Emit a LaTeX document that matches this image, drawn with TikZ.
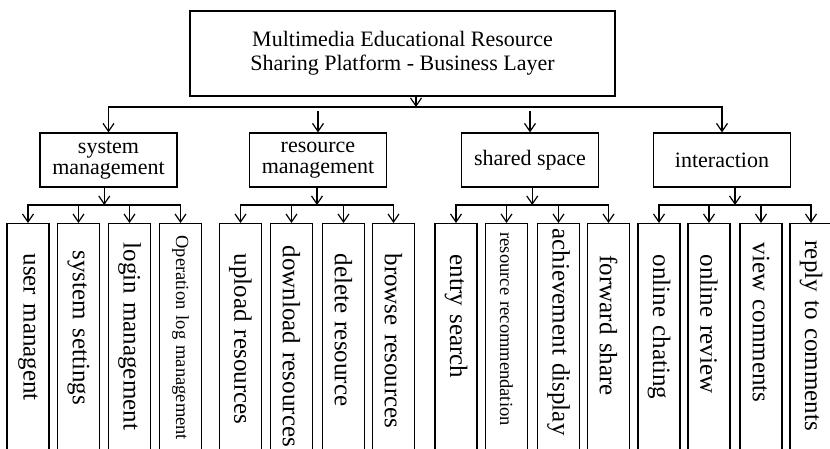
\documentclass[tikz,border=0pt]{standalone}
\usepackage{fontspec}
\setmainfont{Liberation Serif}
\usetikzlibrary{arrows.meta, calc}

\begin{document}
\begin{tikzpicture}[x=1pt, y=-1pt,
    box/.style={draw, line width=1.2pt, align=center, inner sep=0pt},
    topbox/.style={box, minimum width=425pt, minimum height=85pt,
                   font=\fontsize{22}{24}\selectfont},
    midbox/.style={box, minimum width=137pt, minimum height=54pt,
                   font=\fontsize{22}{21}\selectfont},
    leaf/.style={draw, line width=1.2pt, rotate=-90, anchor=west,
                 minimum height=42pt, text width=260pt, align=left,
                 inner ysep=0pt, inner xsep=#1,
                 font=\fontsize{25}{25}\selectfont},
    leaf/.default=30pt,
    small/.style={font=\fontsize{18.5}{18.5}\selectfont},
    arr/.style={-{Straight Barb[length=8pt, width=11pt]}, line width=1.2pt}
  ]
  \useasboundingbox (0,0) rectangle (830,448);
  \clip (0,0) rectangle (830,448);

  % top and second level
  \node[topbox] (plat) at (402.5,53.5)
    {Multimedia Educational Resource\\Sharing Platform - Business Layer};
  \node[midbox] (sys) at (108.5,160) {system\\management};
  \node[midbox] (res) at (318,160) {resource\\management};
  \node[midbox] (sha) at (530,160) {shared space};
  \node[midbox] (int) at (722,160) {interaction};

  % leaves (the number is the gap above the text)
  \node[leaf] (s1) at (28,223) {user managent};
  \node[leaf=27pt] (s2) at (78.5,223) {system settings};
  \node[leaf=19pt] (s3) at (129.5,223) {login management};
  \node[leaf=12pt, small] (s4) at (180.5,223) {Operation log management};

  \node[leaf] (r1) at (240.5,223) {upload resources};
  \node[leaf=22pt] (r2) at (291.5,223) {download resources};
  \node[leaf] (r3) at (343.5,223) {delete resource};
  \node[leaf] (r4) at (393.5,223) {browse resources};

  \node[leaf=31pt] (h1) at (456,223) {entry search};
  \node[leaf=9pt, small] (h2) at (506.5,223) {resource recommendation};
  \node[leaf=5pt] (h3) at (558.5,223) {achievement display};
  \node[leaf=32pt] (h4) at (608.5,223) {forward share};

  \node[leaf=31pt] (i1) at (659,223) {online chating};
  \node[leaf=31pt] (i2) at (709,223) {online review};
  \node[leaf=19pt] (i3) at (761,223) {view comments};
  \node[leaf=17pt] (i4) at (811,223) {reply to comments};

  % first bus
  \coordinate (hub) at (416,107);
  \draw[arr] (plat.south -| hub) -- (hub);
  \draw[arr] (hub) -| (sys.north);
  \draw[arr] (hub) -| (int.north);
  \draw[arr] (res.north) ++(0,-21) -- (res.north);
  \draw[arr] (sha.north) ++(0,-21) -- (sha.north);

  % one bus per group
  \foreach \g/\a in {sys/s, res/r, sha/h, int/i} {
    \coordinate (\a-bus) at ($(\a1.west)!.5!(\a4.west) + (0,-18)$);
    \draw[arr] (\g.south -| \a-bus) -- (\a-bus);
    \draw[arr] (\a-bus) -| (\a1.west);
    \draw[arr] (\a-bus) -| (\a4.west);
    \foreach \k in {2,3}
      \draw[arr] (\a\k.west |- \a-bus) -- (\a\k.west);
  }
\end{tikzpicture}
\end{document}
